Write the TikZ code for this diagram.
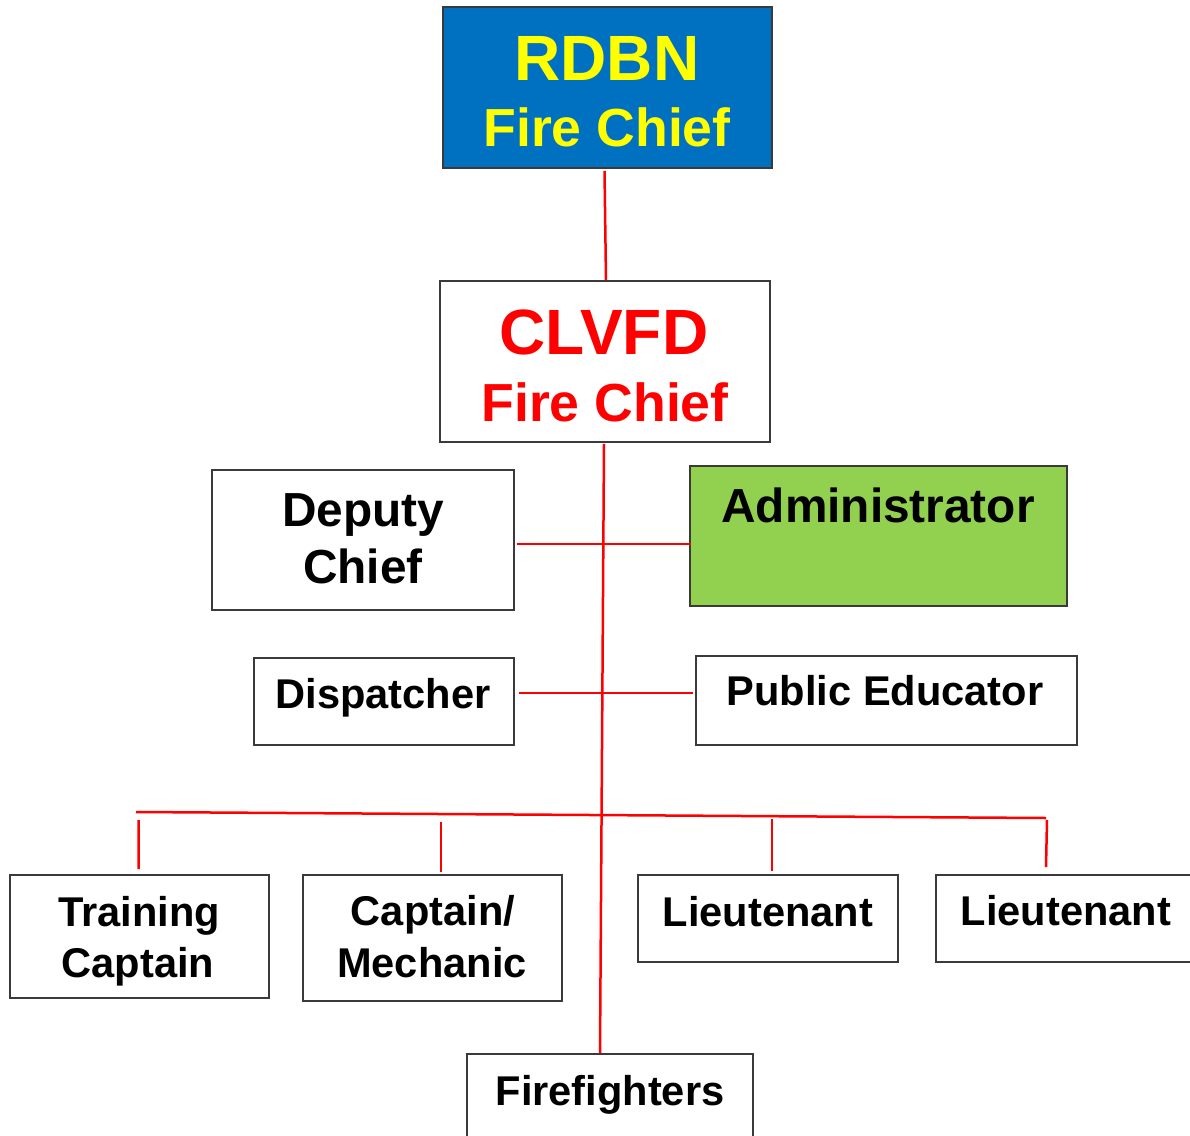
\documentclass[tikz,border=0pt]{standalone}
\usepackage{fontspec}
\setmainfont{Liberation Sans}
\usetikzlibrary{calc}
\definecolor{rblue}{HTML}{0070C0}
\definecolor{ryellow}{HTML}{FFFF00}
\definecolor{rgreen}{HTML}{92D050}
\definecolor{rred}{HTML}{FF0000}
\definecolor{boxline}{HTML}{3A3A3A}
\tikzset{
  box/.style={draw=boxline, line width=0.8pt, rectangle, inner sep=0pt, anchor=center},
  conn/.style={draw=rred, line width=1.25pt},
  lbl/.style={anchor=base, inner sep=0pt},
  big/.style={font=\fontsize{32}{36}\selectfont\bfseries},
  mid/.style={font=\fontsize{26.8}{30}\selectfont\bfseries},
  med/.style={font=\fontsize{23.9}{28}\selectfont\bfseries},
  sml/.style={font=\fontsize{20.8}{24}\selectfont\bfseries}
}
\begin{document}
\begin{tikzpicture}[x=0.5pt,y=-0.5pt]
\useasboundingbox (0,0) rectangle (1190,1136);
\clip (0,0) rectangle (1190,1136);
\fill[white] (0,0) rectangle (1190,1136);

% boxes
\node[box, fill=rblue, minimum width=164.5pt, minimum height=80.5pt] (rdbn) at (607.5,87.5) {};
\node[box, fill=white, minimum width=165pt, minimum height=80.5pt] (clvfd) at (605,361.5) {};
\node[box, fill=white, minimum width=151pt, minimum height=70pt] (deputy) at (363,540) {};
\node[box, fill=rgreen, minimum width=188.5pt, minimum height=70pt] (admin) at (878.5,536) {};
\node[box, fill=white, minimum width=130pt, minimum height=43.5pt] (disp) at (384,701.5) {};
\node[box, fill=white, minimum width=190.5pt, minimum height=44.5pt] (pub) at (886.5,700.5) {};
\node[box, fill=white, minimum width=129.5pt, minimum height=61.5pt] (train) at (139.5,936.5) {};
\node[box, fill=white, minimum width=129.5pt, minimum height=63pt] (capt) at (432.5,938) {};
\node[box, fill=white, minimum width=130pt, minimum height=43.5pt] (lt1) at (768,918.5) {};
\node[box, fill=white, minimum width=132pt, minimum height=43.5pt] (lt2) at (1068,918.5) {};
\node[box, fill=white, minimum width=143pt, minimum height=45.5pt] (fire) at (610,1099.5) {};

% labels
\node[lbl, big, text=ryellow] (rdbn-t1) at (607,80) {RDBN};
\node[lbl, mid, text=ryellow] (rdbn-t2) at (607,146) {Fire Chief};
\node[lbl, big, text=rred] (clvfd-t1) at (604,354) {CLVFD};
\node[lbl, mid, text=rred] (clvfd-t2) at (605,421) {Fire Chief};
\node[lbl, med] (deputy-t1) at (363,526) {Deputy};
\node[lbl, med] (deputy-t2) at (363,583) {Chief};
\node[lbl, med] (admin-t) at (878,522) {Administrator};
\node[lbl, sml] (disp-t) at (383,708) {Dispatcher};
\node[lbl, sml] (pub-t) at (885,705) {Public Educator};
\node[lbl, sml] (train-t1) at (139,926) {Training};
\node[lbl, sml] (train-t2) at (138,977) {Captain};
\node[lbl, sml] (capt-t1) at (433,925) {Captain/};
\node[lbl, sml] (capt-t2) at (432,977) {Mechanic};
\node[lbl, sml] (lt1-t) at (768,926) {Lieutenant};
\node[lbl, sml] (lt2-t) at (1066,925) {Lieutenant};
\node[lbl, sml] (fire-t) at (610,1105) {Firefighters};

% connectors
\draw[conn] ($(rdbn.south)+(-3,2)$) -- ($(clvfd.north)+(1,0)$);
\draw[conn] ($(clvfd.south)+(-1,1)$) -- ($(fire.north)+(-10,0)$);
\draw[conn] ($(deputy.east)+(2,4)$) -- ($(admin.west)+(2,8)$);
\draw[conn] ($(disp.east)+(4,-8.5)$) -- ($(pub.west)+(-2,-7.5)$);
\coordinate (bar-l) at (136,812);
\coordinate (bar-r) at (1046,818);
\draw[conn] (bar-l) -- (bar-r);
\draw[conn] ($(bar-l)!0.003!(bar-r)+(0,8)$) -- ($(train.north)+(-1,-5)$);
\draw[conn] ($(capt.north)+(8.5,-52)$) -- ($(capt.north)+(8.5,-2)$);
\draw[conn] ($(lt1.north)+(4,-55)$) -- ($(lt1.north)+(4,-3)$);
\draw[conn] ($(bar-r)+(1,2)$) -- ($(lt2.north)+(-22,-7)$);
\end{tikzpicture}
\end{document}
